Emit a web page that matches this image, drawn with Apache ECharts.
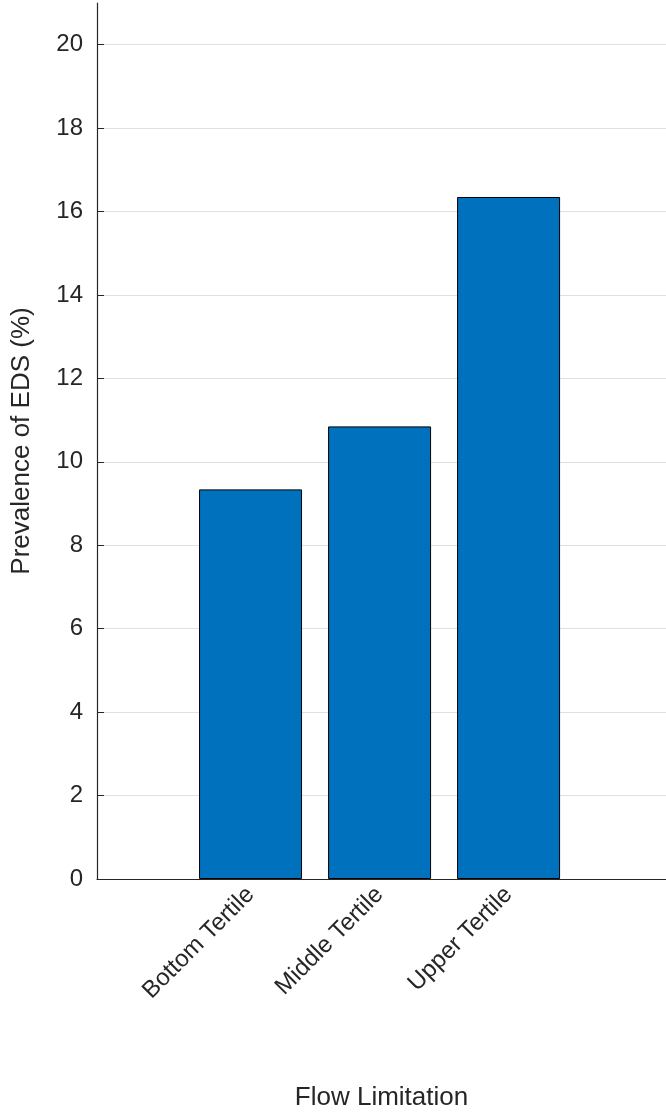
<!DOCTYPE html>
<html>
<head>
<meta charset="utf-8">
<script src="https://cdn.jsdelivr.net/npm/echarts@6/dist/echarts.min.js"></script>
<style>html,body{margin:0;padding:0;background:#fff}#chart{width:666px;height:1118px}</style>
</head>
<body>
<div id="chart"></div>
<script>
var categories = ['Bottom Tertile', 'Middle Tertile', 'Upper Tertile'];
var positions = [1, 2, 3];
var prevalence = [9.34, 10.85, 16.35];

var chart = echarts.init(document.getElementById('chart'));
var font = 'Liberation Sans, Arial, sans-serif';

chart.setOption({
    animation: false,
    grid: {left: 97, right: 0, top: 3, bottom: 239},
    xAxis: {
        type: 'value', min: -0.19, max: 4.22,
        name: 'Flow Limitation', nameLocation: 'middle', nameGap: 206,
        nameTextStyle: {fontFamily: font, fontSize: 26, color: '#262626'},
        axisLine: {onZero: false, lineStyle: {color: '#262626', width: 1.2}},
        axisTick: {show: true, inside: true, length: 7, customValues: positions, lineStyle: {color: '#262626'}},
        axisLabel: {
            customValues: positions, rotate: 45, margin: 12,
            fontFamily: font, fontSize: 24, color: '#262626',
            formatter: function (v) { return categories[Math.round(v) - 1] || ''; }
        },
        splitLine: {show: false}
    },
    yAxis: {
        type: 'value', min: 0, max: 21, interval: 2,
        name: 'Prevalence of EDS (%)', nameLocation: 'middle', nameGap: 62,
        nameTextStyle: {fontFamily: font, fontSize: 26, color: '#262626'},
        axisLine: {show: true, onZero: false, lineStyle: {color: '#262626', width: 1.2}},
        axisTick: {show: true, inside: true, length: 7, lineStyle: {color: '#262626'}},
        axisLabel: {
            fontFamily: font, fontSize: 24, color: '#262626', margin: 14,
            showMaxLabel: false
        },
        splitLine: {showMaxLine: false, lineStyle: {color: '#e0e0e0', width: 1}}
    },
    series: [{
        type: 'bar',
        data: positions.map(function (p, i) { return [p, prevalence[i]]; }),
        barWidth: 103,
        itemStyle: {color: '#0072BD', borderColor: '#000', borderWidth: 1}
    }]
});
</script>
</body>
</html>
